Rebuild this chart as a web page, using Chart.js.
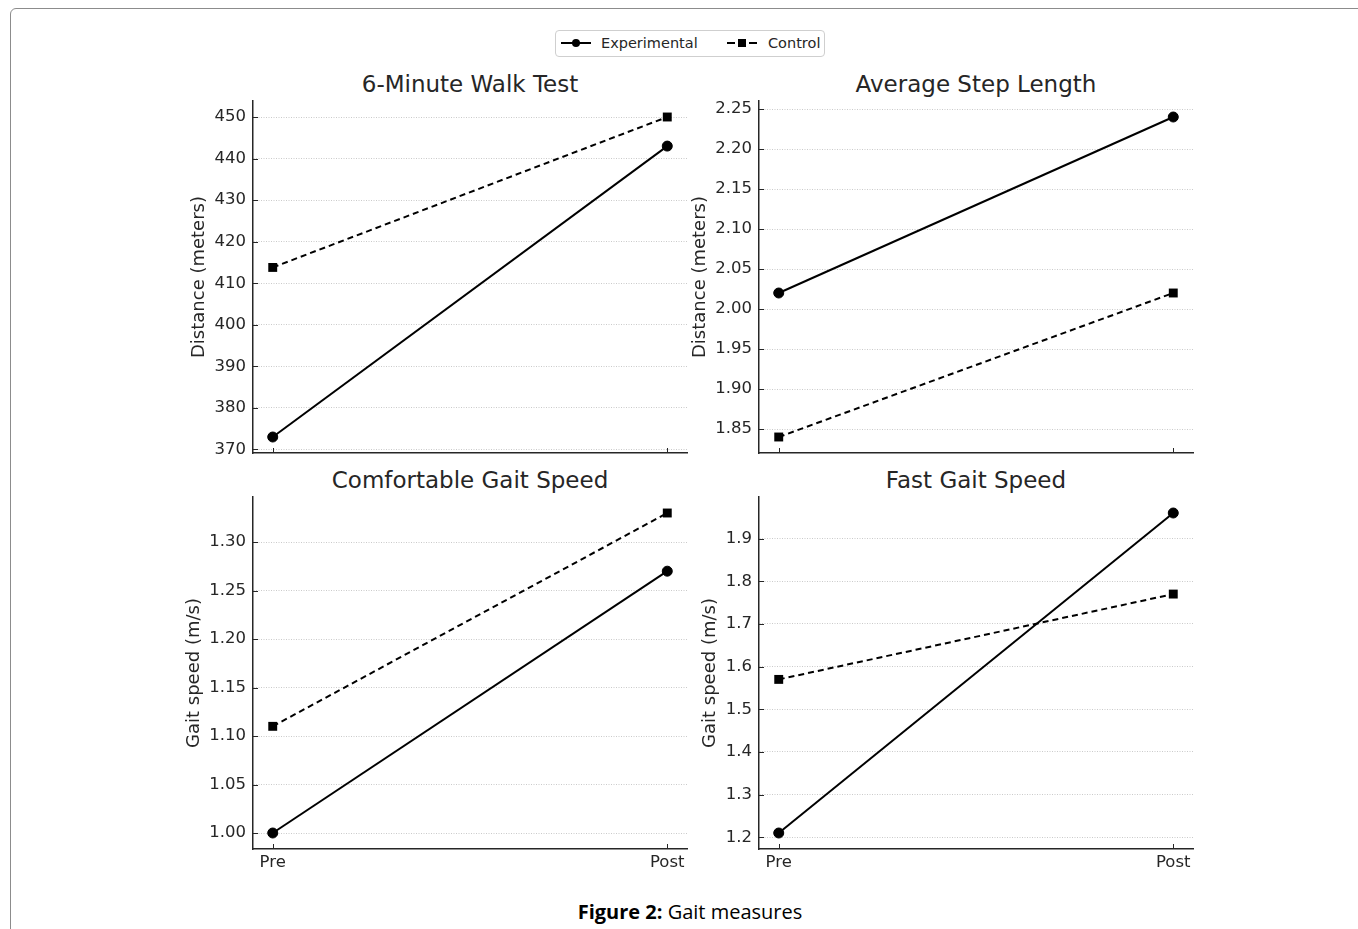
<!DOCTYPE html>
<html>
<head>
<meta charset="utf-8">
<script src="https://cdn.jsdelivr.net/npm/chart.js@4.4.1/dist/chart.umd.min.js"></script>
<style>
  body { margin: 0; background: #fff; width: 1358px; height: 929px; overflow: hidden; position: relative;
         font-family: 'DejaVu Sans', sans-serif; color: #262626; }
  .frame { position: absolute; left: 10px; top: 8px; width: 1400px; height: 960px;
           border: 1px solid #8c8c8c; border-radius: 6px; }
  canvas { position: absolute; }
  .ptitle { position: absolute; width: 434px; text-align: center; font-size: 23px; line-height: 26px; white-space: nowrap; }
  .legend { position: absolute; left: 555px; top: 30px; width: 270px; height: 27px; box-sizing: border-box;
            border: 1px solid #cfcfcf; border-radius: 4px; font-size: 14.5px; }
  .legend .seg { position: absolute; top: 11px; height: 2px; background: #000; }
  .legend .dot { position: absolute; top: 8px; width: 8px; height: 8px; border-radius: 50%; background: #000; }
  .legend .sq { position: absolute; top: 8px; width: 8px; height: 8px; background: #000; }
  .legend .txt { position: absolute; top: 0; line-height: 25px; white-space: nowrap; }
  .caption { position: absolute; left: 440px; width: 500px; top: 899px; text-align: center;
             font-family: 'Open Sans', sans-serif; font-size: 20px; line-height: 26px; color: #000; }
</style>
</head>
<body>
<div class="frame"></div>

<div class="legend">
  <div class="seg" style="left:5px;width:30px"></div>
  <div class="dot" style="left:16px"></div>
  <div class="txt" style="left:45px">Experimental</div>
  <div class="seg" style="left:171px;width:8px"></div>
  <div class="sq" style="left:182px"></div>
  <div class="seg" style="left:193px;width:8px"></div>
  <div class="txt" style="left:212px">Control</div>
</div>

<div class="ptitle" style="left:253px;top:71px">6-Minute Walk Test</div>
<div class="ptitle" style="left:759px;top:71px">Average Step Length</div>
<div class="ptitle" style="left:253px;top:467px">Comfortable Gait Speed</div>
<div class="ptitle" style="left:759px;top:467px">Fast Gait Speed</div>

<div class="caption"><b>Figure 2:</b> Gait measures</div>

<script>
// values
const categories = ['Pre', 'Post'];

const walkExperimental = [373, 443];
const walkControl = [413.8, 450];
const stepExperimental = [2.02, 2.24];
const stepControl = [1.84, 2.02];
const comfortExperimental = [1.00, 1.27];
const comfortControl = [1.11, 1.33];
const fastExperimental = [1.21, 1.96];
const fastControl = [1.57, 1.77];

const walkTicks = [370, 380, 390, 400, 410, 420, 430, 440, 450];
const stepTicks = [1.85, 1.90, 1.95, 2.00, 2.05, 2.10, 2.15, 2.20, 2.25];
const comfortTicks = [1.00, 1.05, 1.10, 1.15, 1.20, 1.25, 1.30];
const fastTicks = [1.2, 1.3, 1.4, 1.5, 1.6, 1.7, 1.8, 1.9];

Chart.defaults.font.family = "'DejaVu Sans', sans-serif";
Chart.defaults.color = '#262626';

// matplotlib style ticks pointing into the plot
const innerTicks = {
  id: 'innerTicks',
  beforeDatasetsDraw(chart) {
    const ctx = chart.ctx, a = chart.chartArea;
    const xs = chart.scales.x, ys = chart.scales.y;
    ctx.save();
    ctx.strokeStyle = '#262626';
    ctx.lineWidth = 1;
    ys.ticks.forEach(t => {
      const y = Math.round(ys.getPixelForValue(t.value)) + 0.5;
      ctx.beginPath(); ctx.moveTo(a.left, y); ctx.lineTo(a.left + 5, y); ctx.stroke();
    });
    xs.ticks.forEach(t => {
      const x = Math.round(xs.getPixelForValue(t.value)) + 0.5;
      ctx.beginPath(); ctx.moveTo(x, a.bottom); ctx.lineTo(x, a.bottom - 5); ctx.stroke();
    });
    ctx.restore();
  }
};

function makePanel(o) {
  const padTop = 20, padRight = 20, xh = 30, plotW = 434, plotH = 352;
  const cv = document.createElement('canvas');
  cv.width = o.yw + plotW + padRight;
  cv.height = padTop + plotH + xh;
  cv.style.left = (o.axisX - o.yw) + 'px';
  cv.style.top = (o.plotTop - padTop) + 'px';
  document.body.appendChild(cv);

  const all = o.exp.concat(o.ctrl);
  const lo = Math.min(...all), hi = Math.max(...all);
  const m = (hi - lo) * 0.05;

  new Chart(cv, {
    type: 'line',
    data: {
      datasets: [
        {
          label: 'Experimental',
          data: o.exp.map((v, i) => ({ x: i, y: v })),
          borderColor: '#000', backgroundColor: '#000', borderWidth: 2,
          pointStyle: 'circle', pointRadius: 5, pointBorderWidth: 1,
          pointBackgroundColor: '#000', tension: 0
        },
        {
          label: 'Control',
          data: o.ctrl.map((v, i) => ({ x: i, y: v })),
          borderColor: '#000', backgroundColor: '#000', borderWidth: 2, borderDash: [6, 4],
          pointStyle: 'rect', pointRadius: 6.3, pointBorderWidth: 0,
          pointBackgroundColor: '#000', tension: 0
        }
      ]
    },
    options: {
      responsive: false,
      animation: false,
      layout: { padding: { top: padTop, right: padRight, left: 0, bottom: 0 } },
      plugins: { legend: { display: false }, tooltip: { enabled: false } },
      scales: {
        x: {
          type: 'linear', min: -0.05, max: 1.05,
          afterBuildTicks: s => { s.ticks = categories.map((c, i) => ({ value: i })); },
          afterFit: s => { s.height = xh; },
          grid: { display: false, drawTicks: false },
          border: { display: true, color: '#262626', width: 1.5 },
          ticks: {
            display: o.showX, padding: 4, maxRotation: 0,
            font: { size: 16.5 },
            callback: v => categories[v]
          }
        },
        y: {
          type: 'linear', min: lo - m, max: hi + m,
          afterBuildTicks: s => { s.ticks = o.ticks.map(v => ({ value: v })); },
          afterFit: s => { s.width = o.yw; },
          grid: { color: '#bdbdbd', lineWidth: 0.8, drawTicks: false },
          border: { display: true, color: '#262626', width: 1.5, dash: [1, 1.5] },
          ticks: {
            padding: 7, font: { size: 16.5 },
            callback: v => Number(v).toFixed(o.decimals)
          },
          title: {
            display: true, text: o.yLabel, font: { size: 18 },
            padding: { top: 4, bottom: 0 }
          }
        }
      }
    },
    plugins: [innerTicks]
  });
}

makePanel({ exp: walkExperimental, ctrl: walkControl, ticks: walkTicks, decimals: 0,
  yLabel: 'Distance (meters)', axisX: 253, yw: 68, plotTop: 101, showX: false });
makePanel({ exp: stepExperimental, ctrl: stepControl, ticks: stepTicks, decimals: 2,
  yLabel: 'Distance (meters)', axisX: 759, yw: 73, plotTop: 101, showX: false });
makePanel({ exp: comfortExperimental, ctrl: comfortControl, ticks: comfortTicks, decimals: 2,
  yLabel: 'Gait speed (m/s)', axisX: 253, yw: 73, plotTop: 497, showX: true });
makePanel({ exp: fastExperimental, ctrl: fastControl, ticks: fastTicks, decimals: 1,
  yLabel: 'Gait speed (m/s)', axisX: 759, yw: 63, plotTop: 497, showX: true });
</script>
</body>
</html>
